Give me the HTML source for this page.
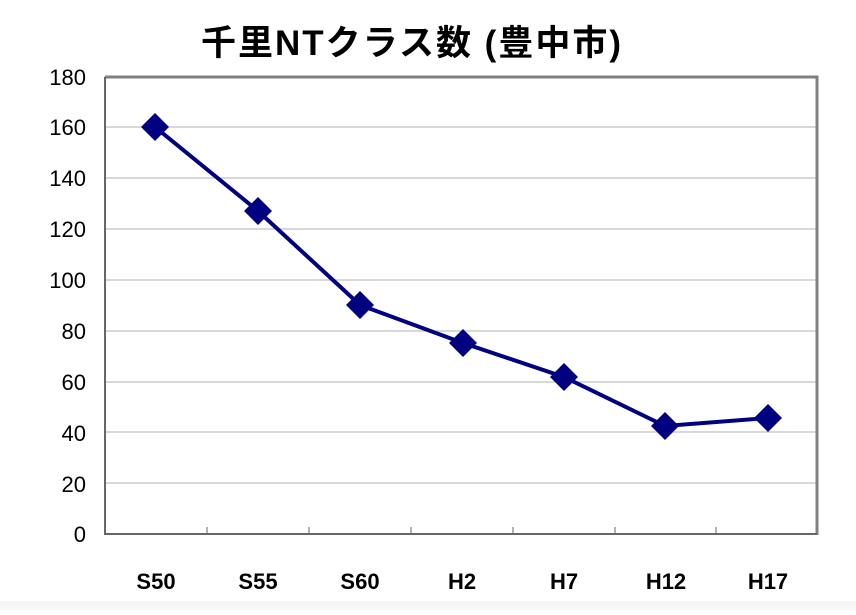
<!DOCTYPE html>
<html><head><meta charset="utf-8"><style>
body{margin:0;width:856px;height:610px;background:#fff;overflow:hidden}
</style></head><body>
<svg width="856" height="610" xmlns="http://www.w3.org/2000/svg" font-family="Liberation Sans, Noto Sans CJK JP, sans-serif">
<rect x="0" y="601" width="856" height="9" fill="#f6f6f6"/>
<text x="412" y="55" font-size="35" font-weight="bold" text-anchor="middle" letter-spacing="2" font-family="Liberation Sans, Noto Sans CJK JP, sans-serif">千里NTクラス数 (豊中市)</text>
<g stroke="#c0c0c0" stroke-width="1.2">
<line x1="105" x2="817" y1="127" y2="127"/>
<line x1="105" x2="817" y1="178" y2="178"/>
<line x1="105" x2="817" y1="229" y2="229"/>
<line x1="105" x2="817" y1="280" y2="280"/>
<line x1="105" x2="817" y1="331" y2="331"/>
<line x1="105" x2="817" y1="382" y2="382"/>
<line x1="105" x2="817" y1="432" y2="432"/>
<line x1="105" x2="817" y1="483" y2="483"/>
</g>
<path d="M105 77 H817 V535" fill="none" stroke="#808080" stroke-width="3"/>
<path d="M105 77 V534 H817" fill="none" stroke="#666" stroke-width="2"/>
<g stroke="#666" stroke-width="1">
<line x1="207" x2="207" y1="527" y2="534"/><line x1="309" x2="309" y1="527" y2="534"/>
<line x1="411" x2="411" y1="527" y2="534"/><line x1="513" x2="513" y1="527" y2="534"/>
<line x1="615" x2="615" y1="527" y2="534"/><line x1="716" x2="716" y1="527" y2="534"/>
</g>
<g font-size="22" text-anchor="end">
<text x="86" y="85">180</text><text x="86" y="135">160</text><text x="86" y="186">140</text>
<text x="86" y="237">120</text><text x="86" y="288">100</text><text x="86" y="339">80</text>
<text x="86" y="390">60</text><text x="86" y="441">40</text><text x="86" y="492">20</text>
<text x="86" y="542">0</text>
</g>
<g font-size="22" font-weight="bold" text-anchor="middle">
<text x="156" y="589">S50</text><text x="258" y="589">S55</text><text x="360" y="589">S60</text>
<text x="462" y="589">H2</text><text x="564" y="589">H7</text><text x="666" y="589">H12</text><text x="768" y="589">H17</text>
</g>
<polyline points="155,127 258,211 360,305 463,343 564,377 665,426 768,418" fill="none" stroke="#000080" stroke-width="4"/>
<g fill="#000080">
<path d="M155 113 l14 14 -14 14 -14 -14z"/>
<path d="M258 197 l14 14 -14 14 -14 -14z"/>
<path d="M360 291 l14 14 -14 14 -14 -14z"/>
<path d="M463 329 l14 14 -14 14 -14 -14z"/>
<path d="M564 363 l14 14 -14 14 -14 -14z"/>
<path d="M665 412 l14 14 -14 14 -14 -14z"/>
<path d="M768 404 l14 14 -14 14 -14 -14z"/>
</g>
</svg>
</body></html>
